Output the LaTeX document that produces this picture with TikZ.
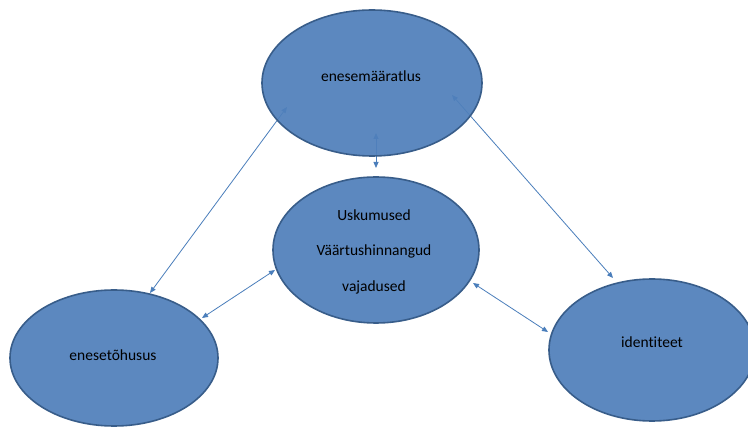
\documentclass[tikz,border=0pt]{standalone}
\usepackage{fontspec}
\setmainfont[Ligatures=NoCommon]{Carlito}
\usetikzlibrary{shapes.geometric,arrows.meta}
\definecolor{ellfill}{HTML}{5080BB}
\definecolor{ellline}{HTML}{385D8A}
\definecolor{arrcol}{HTML}{4A7EBB}
\begin{document}
\begin{tikzpicture}[x=1pt,y=-1pt,
  blob/.style={ellipse,draw=ellline,line width=1.6pt,fill=ellfill,fill opacity=0.93,text opacity=1,inner sep=0pt},
  lbl/.style={font=\fontsize{15.5}{17}\selectfont,text=black},
  conn/.style={draw=arrcol,line width=0.8pt,{Triangle[length=6pt,width=5pt]}-{Triangle[length=6pt,width=5pt]}}]
\useasboundingbox (0,0) rectangle (748,430);
\fill[white] (0,0) rectangle (748,430);
% connector end points
\coordinate (tA) at (376,133);
\coordinate (tB) at (376,168);
\coordinate (lA) at (287,107);
\coordinate (lB) at (150,293);
\coordinate (rA) at (452,95);
\coordinate (rB) at (613,278);
\coordinate (mlA) at (275,270);
\coordinate (mlB) at (202,318);
\coordinate (mrA) at (473,283);
\coordinate (mrB) at (548,332);
\draw[conn] (tA) -- (tB);
\draw[conn] (lA) -- (lB);
\draw[conn] (rA) -- (rB);
\draw[conn] (mlA) -- (mlB);
\draw[conn] (mrA) -- (mrB);
% ellipses
\node[blob,minimum width=220pt,minimum height=146pt] (top) at (372,83) {};
\node[blob,minimum width=206pt,minimum height=146pt] (mid) at (376,250) {};
\node[blob,minimum width=208pt,minimum height=136pt] (left) at (114,358) {};
\node[blob,minimum width=206pt,minimum height=142pt] (right) at (652,350) {};
% labels
\node[lbl] (ttop) at (371,76) {enesemääratlus};
\node[lbl] (tm1) at (374,215) {Uskumused};
\node[lbl] (tm2) at (374,251) {Väärtushinnangud};
\node[lbl] (tm3) at (374,287) {vajadused};
\node[lbl] (tleft) at (113,355) {enesetõhusus};
\node[lbl] (tright) at (652,342) {identiteet};
\end{tikzpicture}
\end{document}
